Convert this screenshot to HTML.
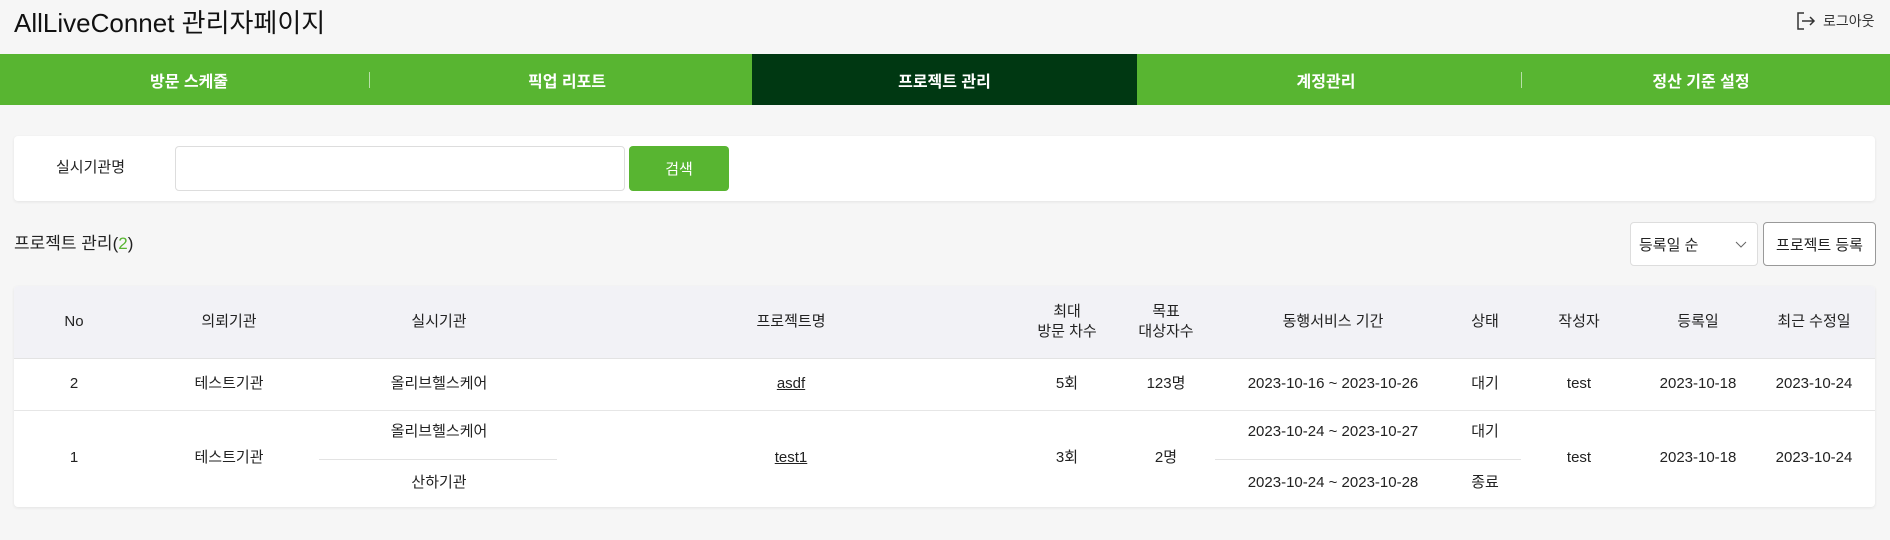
<!DOCTYPE html>
<html><head><meta charset="utf-8"><style>
*{box-sizing:border-box;margin:0;padding:0}
body{width:1890px;height:540px;background:#f6f6f6;font-family:"Liberation Sans","Noto Sans CJK KR",sans-serif;color:#222;position:relative;overflow:hidden}
.a{position:absolute}
.c{position:absolute;transform:translate(-50%,-50%);white-space:nowrap;text-align:center;font-size:15px;line-height:20px}
.tab{position:absolute;top:54px;height:51px;width:378px;display:flex;align-items:center;justify-content:center;color:#fff;font-weight:bold;font-size:16px}
.u{text-decoration:underline}
</style></head><body>
<div class="a" style="left:14px;top:6px;font-size:26px;line-height:34px;color:#111">AllLiveConnet 관리자페이지</div>
<div class="a" style="left:1796px;top:11px;display:flex;align-items:center;font-size:14px;color:#333">
<svg width="20" height="20" viewBox="0 0 20 20"><path d="M8 2H2v16h6" fill="none" stroke="#333" stroke-width="1.5"/><path d="M6 10h12M14 6l4 4-4 4" fill="none" stroke="#333" stroke-width="1.5"/></svg><span style="margin-left:7px">로그아웃</span></div>
<div class="a" style="left:0;top:54px;width:1890px;height:51px;background:#58b531"></div>
<div class="tab" style="left:0">방문 스케줄</div>
<div class="a" style="left:369px;top:72px;width:1px;height:16px;background:#b8e0a8"></div>
<div class="tab" style="left:378px">픽업 리포트</div>
<div class="tab" style="left:752px;width:385px;background:#003812">프로젝트 관리</div>
<div class="tab" style="left:1137px">계정관리</div>
<div class="a" style="left:1521px;top:72px;width:1px;height:16px;background:#b8e0a8"></div>
<div class="tab" style="left:1512px">정산 기준 설정</div>

<div class="a" style="left:14px;top:136px;width:1861px;height:65px;background:#fff;border-radius:4px;box-shadow:0 1px 3px rgba(0,0,0,.08)"></div>
<div class="a" style="left:56px;top:158px;font-size:15px;line-height:20px">실시기관명</div>
<div class="a" style="left:175px;top:146px;width:450px;height:45px;background:#fff;border:1px solid #ddd;border-radius:4px"></div>
<div class="a" style="left:629px;top:146px;width:100px;height:45px;background:#58b531;border-radius:4px;color:#fff;font-size:15px;display:flex;align-items:center;justify-content:center">검색</div>

<div class="a" style="left:14px;top:232px;font-size:17px;line-height:24px">프로젝트 관리(<span style="color:#58b531">2</span>)</div>
<div class="a" style="left:1630px;top:222px;width:128px;height:44px;background:#fff;border:1px solid #ddd;border-radius:4px;font-size:15px;padding-left:8px;display:flex;align-items:center">등록일 순<svg class="a" style="left:104px;top:18px" width="12" height="8"><path d="M1 1l5 5 5-5" fill="none" stroke="#666"/></svg></div>
<div class="a" style="left:1763px;top:222px;width:113px;height:44px;background:#fff;border:1px solid #999;border-radius:4px;font-size:15px;display:flex;align-items:center;justify-content:center">프로젝트 등록</div>

<div class="a" style="left:14px;top:286px;width:1861px;height:221px;background:#fff;border-radius:4px;overflow:hidden;box-shadow:0 1px 3px rgba(0,0,0,.08)">
<div class="a" style="left:0;top:0;width:100%;height:73px;background:#f2f2f6;border-bottom:1px solid #e3e3e3"></div>
<div class="a" style="left:0;top:124px;width:100%;height:1px;background:#e6e6e6"></div>
<div class="a" style="left:305px;top:173px;width:238px;height:1px;background:#e3e3e3"></div>
<div class="a" style="left:1201px;top:173px;width:306px;height:1px;background:#e3e3e3"></div>
</div>
<div id="cells"></div>
<script>
const colX=[74,229,439,791,1067,1166,1333,1485,1579,1698,1814];
const headers=["No","의뢰기관","실시기관","프로젝트명","최대<br>방문 차수","목표<br>대상자수","동행서비스 기간","상태","작성자","등록일","최근 수정일"];
const row1=["2","테스트기관","올리브헬스케어","asdf","5회","123명","2023-10-16 ~ 2023-10-26","대기","test","2023-10-18","2023-10-24"];
const row2=["1","테스트기관",null,"test1","3회","2명",null,null,"test","2023-10-18","2023-10-24"];
const c=document.getElementById('cells');
function cell(x,y,html,name,cls){const d=document.createElement('div');d.className='c '+(cls||'');d.style.left=x+'px';d.style.top=y+'px';d.innerHTML=html;


c.appendChild(d);}
headers.forEach((h,i)=>cell(colX[i],322,h,'header-cell'));
row1.forEach((v,i)=>cell(colX[i],384,v,'row1-cell',i==3?'u':''));
row2.forEach((v,i)=>{if(v!==null)cell(colX[i],458,v,'row2-cell',i==3?'u':'');});
cell(colX[2],432,"올리브헬스케어",'row2-agency-1');
cell(colX[2],483,"산하기관",'row2-agency-2');
cell(colX[6],432,"2023-10-24 ~ 2023-10-27",'row2-period-1');
cell(colX[6],483,"2023-10-24 ~ 2023-10-28",'row2-period-2');
cell(colX[7],432,"대기",'row2-status-1');
cell(colX[7],483,"종료",'row2-status-2');
</script>
</body></html>
